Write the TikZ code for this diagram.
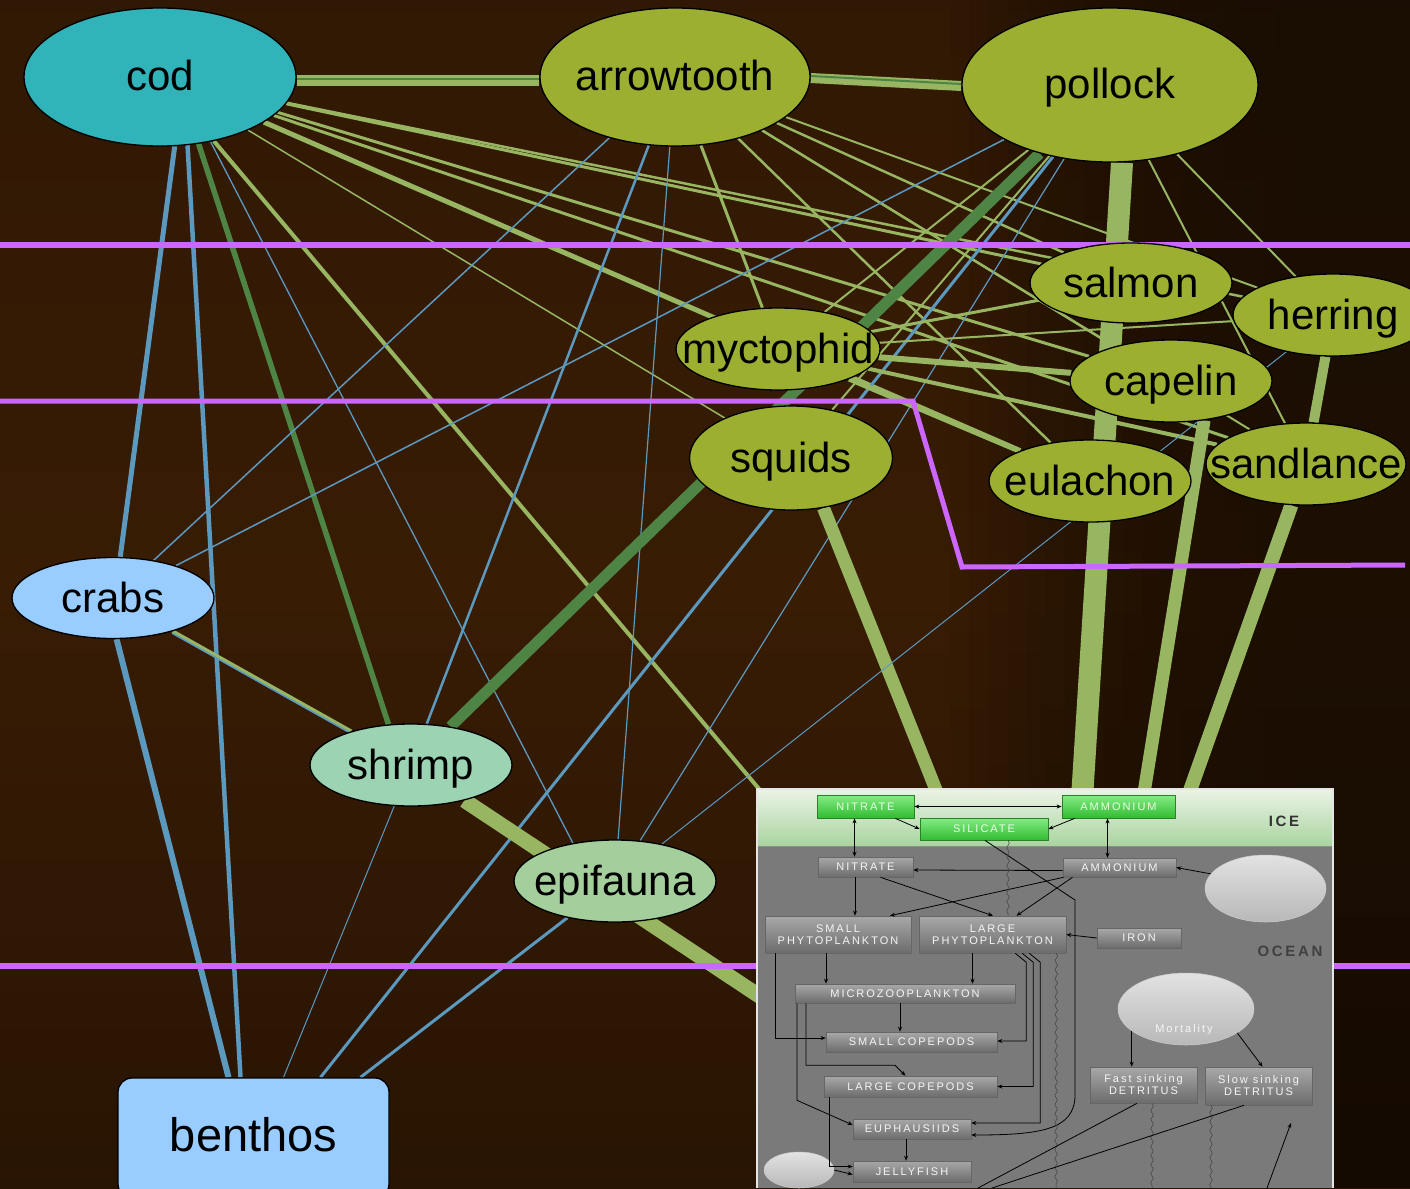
\documentclass[tikz,border=0pt]{standalone}
\usepackage{fontspec}
\setmainfont{Liberation Sans}
\newfontfamily\npzfont[LetterSpace=18]{Liberation Sans}
\usetikzlibrary{shapes.geometric,arrows.meta,decorations.pathmorphing}

% palette
\definecolor{codteal}{RGB}{49,179,186}
\definecolor{fisholive}{RGB}{156,175,48}
\definecolor{benthblue}{RGB}{153,204,255}
\definecolor{shrimpmint}{RGB}{156,211,178}
\definecolor{epimint}{RGB}{164,206,156}
\definecolor{webgreen}{RGB}{152,182,98}
\definecolor{webdark}{RGB}{78,133,68}
\definecolor{webblue}{RGB}{92,153,190}
\definecolor{zoneline}{RGB}{204,102,255}
\definecolor{bgtop}{RGB}{33,18,5}
\definecolor{bgupper}{RGB}{46,23,4}
\definecolor{bgmid}{RGB}{56,28,4}
\definecolor{bglower}{RGB}{34,17,3}
\definecolor{bgbot}{RGB}{26,14,3}
\definecolor{npzgrey}{RGB}{122,122,122}
\definecolor{npzhi}{RGB}{168,168,168}
\definecolor{npzlo}{RGB}{108,108,108}
\definecolor{icetop}{RGB}{234,243,228}
\definecolor{icebot}{RGB}{170,212,160}
\definecolor{icegreenhi}{RGB}{132,236,132}
\definecolor{icegreenlo}{RGB}{50,188,50}
\definecolor{icegreenedge}{RGB}{40,130,40}
\definecolor{blobhi}{RGB}{226,226,226}
\definecolor{bloblo}{RGB}{184,184,184}

% brown backdrop, brightest a little above the middle
\pgfdeclareverticalshading{webbackdrop}{100bp}{color(0bp)=(bgbot); color(15bp)=(bglower);
  color(50bp)=(bgmid); color(85bp)=(bgupper); color(100bp)=(bgtop)}

\newcommand\speciesfont{\fontsize{42}{48}\selectfont}
\newcommand\benthosfont{\fontsize{47}{54}\selectfont}
\newcommand\npzsmall{\npzfont\fontsize{11}{12}\selectfont}
\newcommand\npzzone{\npzfont\bfseries\fontsize{15}{17}\selectfont}
\newcommand\wordat[1]{\makebox[0pt]{#1}}

\pgfdeclarelayer{bglayer}
\pgfdeclarelayer{edgelayer}
\pgfsetlayers{bglayer,edgelayer,main}

\begin{document}
\begin{tikzpicture}[x=1pt,y=-1pt,
  species/.style={ellipse, draw=black, line width=1.3pt, inner sep=0pt,
    text height=28pt, text depth=0pt, font=\speciesfont, text=black},
  gedge/.style={draw=webgreen, line width=#1},
  dedge/.style={draw=webdark, line width=#1},
  bedge/.style={draw=webblue, line width=#1},
  zone/.style={draw=zoneline, line width=#1},
  npzbox/.style={draw=black!60, line width=0.6pt, top color=npzhi, bottom color=npzlo,
    inner sep=0pt, font=\npzsmall, text=white!92!gray, align=center},
  icebox/.style={draw=icegreenedge, line width=0.8pt, top color=icegreenhi, bottom color=icegreenlo,
    inner sep=0pt, font=\npzsmall, text=white!90!green, align=center},
  npzblob/.style={ellipse, draw=gray!40!white, line width=0.5pt, inner sep=0pt,
    top color=blobhi, bottom color=bloblo},
  flow/.style={draw=black, line width=0.8pt, -{Stealth[length=5pt,width=4pt]}},
  flowboth/.style={draw=black, line width=0.8pt, {Stealth[length=5pt,width=4pt]}-{Stealth[length=5pt,width=4pt]}},
  plainflow/.style={draw=black, line width=0.8pt},
  sinking/.style={draw=black!75, line width=0.5pt, decorate,
    decoration={snake, amplitude=1.3pt, segment length=9pt}},
]
\useasboundingbox (0,0) rectangle (1410,1188);

% ---------- background ----------
\begin{pgfonlayer}{bglayer}
  \shade[shading=webbackdrop] (0,0) rectangle (1410,1188);
  % darker towards the right edge
  \foreach \i in {0,...,23} {
    \pgfmathsetmacro\shadeop{0.48*(1-(1-(\i+0.5)/24)^3)}
    \fill[black, fill opacity=\shadeop] ({950+\i*460/24},0) rectangle ({950+(\i+1)*460/24},1188);
  }
\end{pgfonlayer}

% ---------- species ----------
\node[species, fill=codteal, minimum width=272pt, minimum height=138pt] (cod) at (160,77) {\wordat{cod}};
\node[species, fill=fisholive, minimum width=270pt, minimum height=138pt] (arrowtooth) at (675,77) {\wordat{arrowtooth}};
\node[species, fill=fisholive, minimum width=296pt, minimum height=154pt] (pollock) at (1110,85) {\wordat{pollock}};
\node[species, fill=fisholive, minimum width=202pt, minimum height=80pt] (salmon) at (1131,283) {\wordat{salmon}};
\node[species, fill=fisholive, minimum width=200pt, minimum height=82pt] (herring) at (1333,315) {\wordat{herring}};
\node[species, fill=fisholive, minimum width=204pt, minimum height=82pt] (myctophid) at (778,349) {\wordat{myctophid}};
\node[species, fill=fisholive, minimum width=202pt, minimum height=82pt] (capelin) at (1171,381) {\wordat{capelin}};
\node[species, fill=fisholive, minimum width=203pt, minimum height=104pt] (squids) at (791,458) {\wordat{squids}};
\node[species, fill=fisholive, minimum width=202pt, minimum height=82pt] (eulachon) at (1090,481) {\wordat{eulachon}};
\node[species, fill=fisholive, minimum width=200pt, minimum height=82pt] (sandlance) at (1306,464) {\wordat{sandlance}};
\node[species, fill=benthblue, minimum width=202pt, minimum height=81pt] (crabs) at (113,598) {\wordat{crabs}};
\node[species, fill=shrimpmint, minimum width=202pt, minimum height=82pt] (shrimp) at (411,765) {\wordat{shrimp}};
\node[species, fill=epimint, minimum width=202pt, minimum height=82pt] (epifauna) at (615,881) {\wordat{epifauna}};
\node[draw=black, line width=1.3pt, rounded corners=14pt, fill=benthblue, minimum width=271pt,
  minimum height=120pt, inner sep=0pt, text height=26pt, text depth=0pt, font=\benthosfont]
  (benthos) at (253.5,1138) {benthos};

% entry points of the flows into the lower-trophic model panel
\coordinate (npzA) at (802,840);
\coordinate (npzB) at (952,830);
\coordinate (npzC) at (1080,830);
\coordinate (npzD) at (1138,830);
\coordinate (npzE) at (1176,830);
\coordinate (npzF) at (800,1023);

% ---------- trophic links ----------
\begin{pgfonlayer}{edgelayer}
  % along the top
  \draw[gedge=11] ([yshift=-4pt]cod.east) -- ([yshift=-4pt]arrowtooth.west);
  \draw[dedge=2] ([yshift=-2pt]cod.east) -- ([yshift=-2pt]arrowtooth.west);
  \draw[gedge=10] ([yshift=-1pt]arrowtooth.east) -- ([yshift=-1pt]pollock.west);
  \draw[dedge=2] ([yshift=1pt]arrowtooth.east) -- ([yshift=1pt]pollock.west);
  % cod
  \draw[gedge=3] (cod) -- (salmon);
  \draw[gedge=2.5] (cod) -- (herring);
  \draw[gedge=3] (cod) -- (capelin);
  \draw[gedge=3] (cod) -- (sandlance);
  \draw[gedge=5] (cod) -- (eulachon);
  \draw[gedge=1.5] (cod) -- (squids);
  \draw[gedge=4] (cod) -- (npzA);
  \draw[bedge=5] (cod.-78) -- (crabs.80);
  \draw[bedge=4.5] (cod.-68) -- ([xshift=-13pt]benthos.north);
  \draw[dedge=5.5] (cod.-60) -- (shrimp.119);
  \draw[bedge=1.3] (cod.-52) -- (epifauna.138);
  % arrowtooth
  \draw[bedge=1.5] (arrowtooth) -- (crabs);
  \draw[bedge=2.5] (arrowtooth) -- (shrimp);
  \draw[bedge=1.2] (arrowtooth) -- (epifauna);
  \draw[gedge=3] (arrowtooth) -- (myctophid);
  \draw[gedge=2.5] (arrowtooth) -- (salmon);
  \draw[gedge=2.5] (arrowtooth) -- (capelin);
  \draw[gedge=2.5] (arrowtooth) -- (eulachon);
  \draw[gedge=2] (arrowtooth) -- (sandlance);
  \draw[gedge=2] (arrowtooth) -- (herring);
  % pollock
  \draw[gedge=2] (pollock) -- (myctophid);
  \draw[gedge=2] (pollock) -- (squids);
  \draw[gedge=2] (pollock) -- (herring);
  \draw[gedge=2] (pollock) -- (sandlance);
  \draw[bedge=1.5] (pollock) -- (crabs);
  \draw[bedge=1.2] (pollock) -- (epifauna);
  \draw[bedge=3] (pollock) -- ([xshift=67pt]benthos.north);
  \draw[dedge=11] (pollock) -- (shrimp);
  \draw[gedge=22] ([xshift=12pt]pollock.south) -- (npzC);
  % myctophid
  \draw[gedge=6] (myctophid) -- (capelin);
  \draw[gedge=3] (myctophid) -- (salmon);
  \draw[gedge=5] (myctophid) -- (eulachon);
  \draw[gedge=4] (myctophid) -- (sandlance);
  \draw[gedge=2] (myctophid) -- (herring);
  % forage fish and squids to the plankton model
  \draw[gedge=13] (squids.-57) -- (npzB);
  \draw[gedge=13] (capelin.-50) -- (npzD);
  \draw[gedge=10] (herring) -- (sandlance);
  \draw[gedge=14] (sandlance) -- (npzE);
  % benthic side
  \draw[gedge=4] (crabs) -- (shrimp);
  \draw[bedge=1.6, transform canvas={yshift=-2pt}] (crabs) -- (shrimp);
  \draw[bedge=6] (crabs.-85) -- ([xshift=-25pt]benthos.north);
  \draw[bedge=1] (shrimp) -- ([xshift=30pt]benthos.north);
  \draw[gedge=15] (shrimp) -- (npzF);
  \draw[bedge=3] (epifauna) -- ([xshift=107pt]benthos.north);
  \draw[bedge=1] (epifauna) -- (herring);
  % zone boundaries
  \draw[zone=6] (0,245) -- (1410,245);
  \draw[zone=5] (0,401) -- (913,401) -- (962,567) -- (1405,565);
  \draw[zone=6] (0,966) -- (1410,966);
\end{pgfonlayer}

% ---------- lower-trophic (NPZ) model panel ----------
\fill[npzgrey] (757,789) rectangle (1333,1188);
\shade[top color=icetop, bottom color=icebot] (758,790) rectangle (1332,846);
\draw[black!45, line width=0.8pt] (758,846) -- (1332,846);
\draw[white!80!gray, line width=1.5pt] (757,1188) -- (757,789) -- (1333,789) -- (1333,1188);

\node[icebox, minimum width=97pt, minimum height=23pt] (iceno) at (865.5,806.5) {NITRATE};
\node[icebox, minimum width=128pt, minimum height=22pt] (icesi) at (984,829) {SILICATE};
\node[icebox, minimum width=113pt, minimum height=23pt] (icenh) at (1118.5,806.5) {AMMONIUM};
\node[font=\npzzone, text=black!80] (icelabel) at (1284,821) {ICE};

\node[npzbox, minimum width=95pt, minimum height=20pt] (oceno) at (865.5,867) {NITRATE};
\node[npzbox, minimum width=113pt, minimum height=19pt] (oceannh) at (1119.5,867.5) {AMMONIUM};
\node[npzblob, minimum width=121pt, minimum height=67pt] (blobtop) at (1265.5,888.5) {};
\node[npzbox, minimum width=146pt, minimum height=37pt] (smallphy) at (838,934.5) {SMALL\\PHYTOPLANKTON};
\node[npzbox, minimum width=147pt, minimum height=37pt] (largephy) at (992.5,934.5) {LARGE\\PHYTOPLANKTON};
\node[npzbox, minimum width=84pt, minimum height=20pt] (iron) at (1139,938) {IRON};
\node[font=\npzzone, text=black!75] (oceanlabel) at (1290,951) {OCEAN};
\node[npzbox, minimum width=220pt, minimum height=19pt] (micro) at (905,993.5) {MICROZOOPLANKTON};
\node[npzbox, minimum width=171pt, minimum height=20pt] (smallcop) at (911.5,1042) {SMALL COPEPODS};
\node[npzbox, minimum width=173pt, minimum height=21pt] (largecop) at (910.5,1086.5) {LARGE COPEPODS};
\node[npzbox, minimum width=118pt, minimum height=20pt] (euph) at (912,1129) {EUPHAUSIIDS};
\node[npzbox, minimum width=118pt, minimum height=21pt] (jelly) at (912,1171.5) {JELLYFISH};
\node[npzblob, minimum width=70pt, minimum height=36pt] (blobleft) at (799,1170) {};
\node[npzblob, minimum width=136pt, minimum height=72pt] (mort) at (1186,1009) {};
\node[font=\npzsmall, text=white!92!gray] (morttext) at (1184,1030) {Mortality};
\node[npzbox, minimum width=107pt, minimum height=36pt] (fastdet) at (1143.5,1085) {Fast sinking\\DETRITUS};
\node[npzbox, minimum width=107pt, minimum height=38pt] (slowdet) at (1258.5,1086) {Slow sinking\\DETRITUS};

\coordinate (sinkA) at (1056,1188);
\coordinate (sinkB) at (1152,1188);
\coordinate (sinkC) at (1211,1188);
\coordinate (exitA) at (978,1188);
\coordinate (exitB) at (992,1188);
\coordinate (exitC) at (1267,1188);
\coordinate (upC) at (1291,1123);

% nutrient exchange
\draw[flowboth] (iceno.east) -- (icenh.west);
\draw[flow] ([xshift=-19pt]iceno.south east) -- (icesi.west);
\draw[flow] ([xshift=13pt]icenh.south west) -- (icesi.east);
\draw[flowboth] ([xshift=-11pt]iceno.south) -- ([xshift=-11pt]oceno.north);
\draw[flowboth] ([xshift=-11pt]icenh.south) -- ([xshift=-12pt]oceannh.north);
\draw[flow] ([yshift=-3pt]oceannh.west) -- ([yshift=-3pt]oceno.east);
\draw[flow] (blobtop.165) -- (oceannh.east);
\draw[flow] ([xshift=-10.5pt]oceno.south) -- ([xshift=17pt]smallphy.north);
\draw[flow] ([xshift=15pt]oceno.south) -- ([xshift=0.5pt]largephy.north);
\draw[flow] ([xshift=-56pt]oceannh.south) -- ([xshift=52pt]smallphy.north);
\draw[flow] ([xshift=-47pt]oceannh.south) -- ([xshift=24pt]largephy.north);
\draw[flow] (iron.west) -- (largephy.east);
% grazing
\draw[flow] ([xshift=-12pt]smallphy.south) -- ([xshift=-79pt]micro.north);
\draw[flow] ([xshift=-20pt]largephy.south) -- ([xshift=67.5pt]micro.north);
\draw[flow] ([xshift=-5pt]micro.south) -- ([xshift=-11.5pt]smallcop.north);
\draw[flow] ([xshift=11pt]smallphy.south west) |- ([yshift=4pt]smallcop.west);
\draw[flow] ([xshift=-51pt]largephy.south east) -- ++(11,9) |- ([yshift=1pt]smallcop.east);
\draw[flow] ([xshift=-44pt]largephy.south east) -- ++(11,9) |- (largecop.east);
\draw[flow] ([xshift=-37pt]largephy.south east) -- ++(11,9) |- ([yshift=6pt]euph.east);
\draw[flow] ([xshift=-99pt]micro.south) -- ++(0,62) -- ++(89,0) -- ([xshift=-5pt]largecop.north);
\draw[flow] ([xshift=-108pt]micro.south) -- ++(0,97) -- ([yshift=4pt]euph.west);
\draw[flow] ([xshift=-81.5pt]largecop.south) |- ([yshift=5pt]jelly.west);
\draw[flow] ([xshift=-6pt]euph.south) -- ([xshift=-6pt]jelly.north);
\draw[flow] (blobleft.east) -- ([yshift=-3pt]jelly.west);
\draw[flow] ([xshift=1pt]icesi.south) -- (1075,900) -- (1075,1095)
  .. controls (1075,1130) and (1040,1135) .. ([yshift=-6pt]euph.east);
% sinking and detritus
\draw[sinking] ([xshift=24pt]icesi.south) -- ([xshift=15.5pt]largephy.north);
\draw[sinking] ([xshift=-10pt]largephy.south east) -- (sinkA);
\draw[sinking] ([xshift=8.5pt]fastdet.south) -- (sinkB);
\draw[sinking] ([xshift=-47.5pt]slowdet.south) -- (sinkC);
\draw[flow] (mort.-158) -- (mort.-158 |- fastdet.north);
\draw[flow] (mort.-25) -- ([xshift=4pt]slowdet.north);
\draw[plainflow] ([xshift=-6.5pt]fastdet.south) -- (exitA);
\draw[plainflow] ([xshift=-14.5pt]slowdet.south) -- (exitB);
\draw[flow] (exitC) -- (upC);
\end{tikzpicture}
\end{document}
